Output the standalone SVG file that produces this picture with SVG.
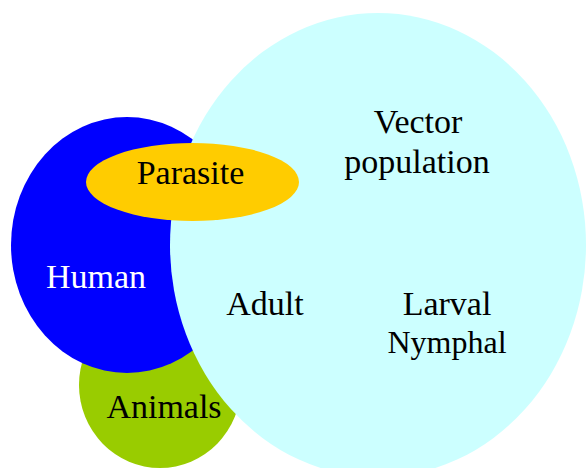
<svg xmlns="http://www.w3.org/2000/svg" width="586" height="468" viewBox="0 0 586 468">
<style>
text{font-family:"Liberation Serif","Times New Roman",serif;font-size:34px;text-anchor:middle;fill:#000}
.white{fill:#fff}
</style>
<rect width="586" height="468" fill="#fff"/>
<g id="animals">
<ellipse cx="160" cy="385" rx="81" ry="83" fill="#99CC00"/>
<text x="164" y="418">Animals</text>
</g>
<g id="human">
<ellipse cx="127" cy="245" rx="116" ry="128" fill="#0000FF"/>
<text class="white" x="96" y="288">Human</text>
</g>
<g id="vector">
<ellipse cx="378" cy="245" rx="208" ry="232" fill="#CCFFFF"/>
<text x="418" y="133">Vector</text>
<text x="417" y="173">population</text>
<text x="265" y="315">Adult</text>
<text x="447" y="315">Larval</text>
<text x="447" y="353" style="font-size:32px">Nymphal</text>
</g>
<g id="parasite">
<ellipse cx="192.5" cy="182" rx="106.5" ry="39" fill="#FFCC00"/>
<text x="190.5" y="184">Parasite</text>
</g>
</svg>
